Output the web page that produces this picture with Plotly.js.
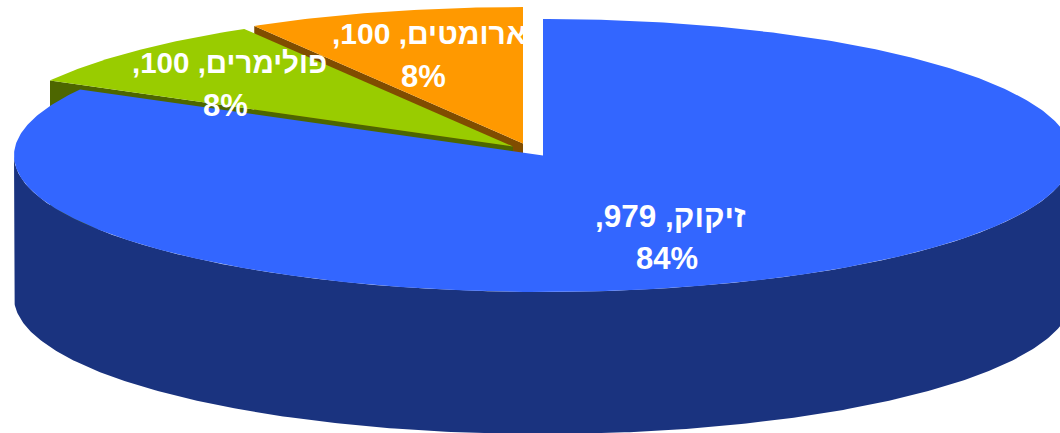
<!DOCTYPE html>
<html>
<head>
<meta charset="utf-8">
<script src="https://cdn.plot.ly/plotly-3.0.1.min.js"></script>
<style>html,body{margin:0;padding:0;background:#fff}#c{width:1060px;height:433px}</style>
</head>
<body>
<div id="c"></div>
<script>
// Data, in drawing order round the pie (clockwise from 12 o'clock)
const categories = ['זיקוק', 'פולימרים', 'ארומטים'];
const values = [979, 100, 100];
const percents = [84, 8, 8];

// Styles and geometry
const topColors = ['#3366FF', '#99CC00', '#FF9900'];
const sideColors = ['#1A337F', '#4D6600', '#804D00'];
const centers = [[543, 155.5], [513, 146.5], [523, 143.5]];
// [name line x, name line y, name line size, percent line x, percent line y]
const labelPos = [[670.5, 216, 31.5, 667, 258.5], [229, 62, 29.5, 225.5, 105], [429, 33, 30, 423, 76]];
const percentSize = 31;
const rx = 529, ry = 136.5, depth = 142;

const total = values.reduce((a, b) => a + b, 0);
const bounds = [];
let acc = 0;
values.forEach(v => { bounds.push([acc / total * 2 * Math.PI, (acc + v) / total * 2 * Math.PI]); acc += v; });

const pt = (c, a, dy) => [c[0] + rx * Math.sin(a), c[1] - ry * Math.cos(a) + (dy || 0)];
function arc(c, a0, a1, dy) {
  const n = Math.max(2, Math.ceil((a1 - a0) / 0.01));
  const out = [];
  for (let i = 0; i <= n; i++) out.push(pt(c, a0 + (a1 - a0) * i / n, dy));
  return out;
}
function poly(points, color) {
  return {
    type: 'scatter', mode: 'lines', fill: 'toself', fillcolor: color,
    x: points.map(p => p[0]), y: points.map(p => p[1]),
    line: { width: 0, color: color }, hoverinfo: 'skip', showlegend: false
  };
}
const topFace = i => poly([centers[i], ...arc(centers[i], bounds[i][0], bounds[i][1]), centers[i]], topColors[i]);
function cutFace(i, a) {
  const c = centers[i], r = pt(c, a);
  return poly([c, r, [r[0], r[1] + depth], [c[0], c[1] + depth], c], sideColors[i]);
}
function rimFace(i) {
  const a0 = Math.max(bounds[i][0], Math.PI / 2), a1 = Math.min(bounds[i][1], 3 * Math.PI / 2);
  return poly([...arc(centers[i], a0, a1), ...arc(centers[i], a0, a1, depth).reverse()], sideColors[i]);
}

const traces = [
  cutFace(2, bounds[2][0]), topFace(2),
  cutFace(1, bounds[1][0]), topFace(1),
  rimFace(0), topFace(0)
];

const font = s => ({ family: '"Liberation Sans", Arial, sans-serif', size: s, weight: 700, color: '#FFFFFF' });
const annotations = [];
categories.forEach((cat, i) => {
  const base = { xref: 'x', yref: 'y', showarrow: false, xanchor: 'center', yanchor: 'middle' };
  annotations.push(Object.assign({}, base, { x: labelPos[i][0], y: labelPos[i][1], font: font(labelPos[i][2]), text: '\u200F' + cat + ', ' + values[i] + ',\u200F' }));
  annotations.push(Object.assign({}, base, { x: labelPos[i][3], y: labelPos[i][4], font: font(percentSize), text: percents[i] + '%' }));
});

Plotly.newPlot('c', traces, {
  width: 1060, height: 433, margin: { l: 0, r: 0, t: 0, b: 0 },
  paper_bgcolor: '#FFFFFF', plot_bgcolor: '#FFFFFF', showlegend: false, hovermode: false,
  xaxis: { range: [0, 1060], visible: false, fixedrange: true },
  yaxis: { range: [433, 0], visible: false, fixedrange: true },
  annotations: annotations
}, { displayModeBar: false, staticPlot: true });
</script>
</body>
</html>
